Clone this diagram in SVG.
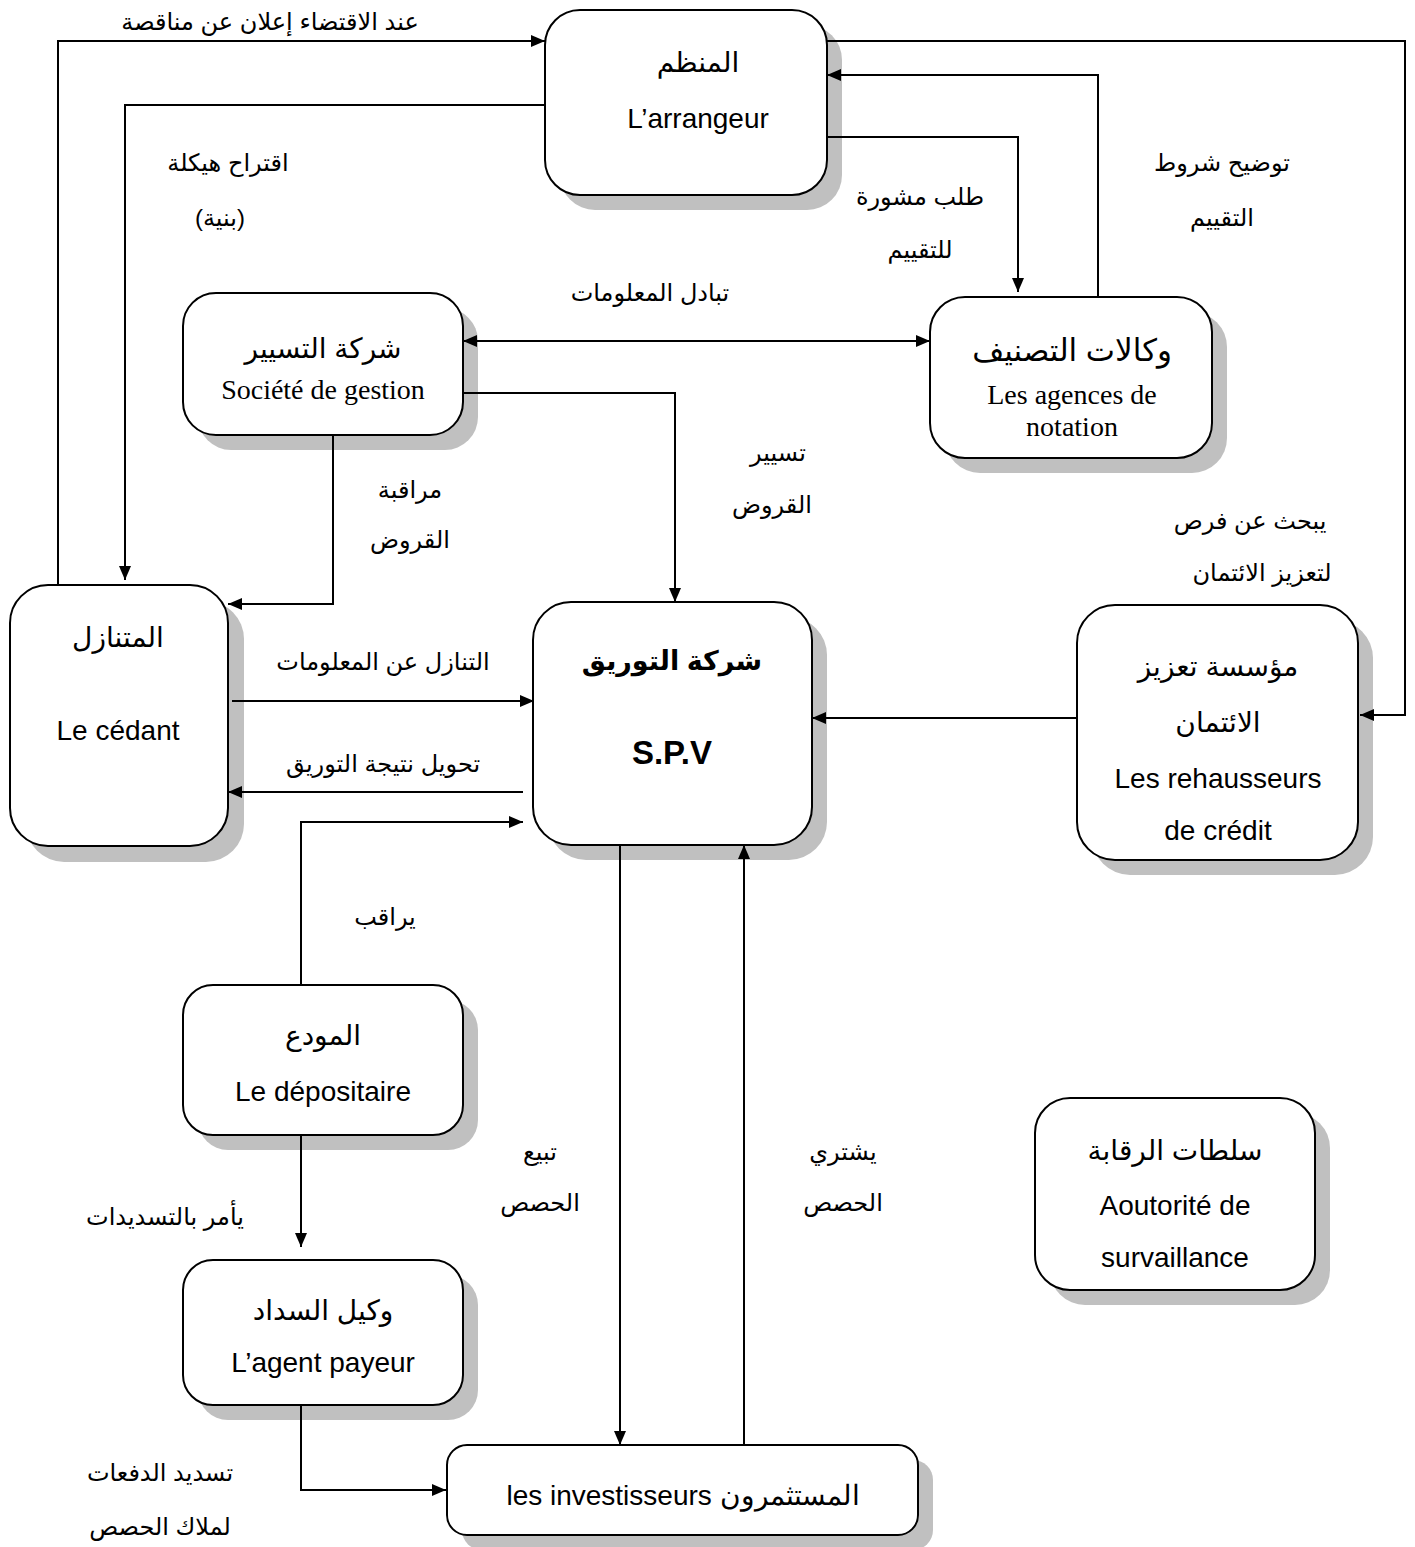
<svg xmlns="http://www.w3.org/2000/svg" width="1415" height="1547" viewBox="0 0 1415 1547">
<style>
.box{fill:#fff;stroke:#000;stroke-width:2}
.sh{fill:#c0c0c0}
.ln{fill:none;stroke:#000;stroke-width:2}
.ar{font-family:"Liberation Sans","DejaVu Sans",sans-serif;font-size:24px;fill:#000;text-anchor:middle}
.t{font-family:"Liberation Sans","DejaVu Sans",sans-serif;font-size:28px;fill:#000;text-anchor:middle}
.lat{font-family:"Liberation Sans",Arial,sans-serif;font-size:28px;fill:#000;text-anchor:middle}
.ser{font-family:"Liberation Serif","Times New Roman",serif;font-size:28px;fill:#000;text-anchor:middle}
.b{font-weight:bold}
</style>
<defs>
<marker id="ah" markerUnits="userSpaceOnUse" viewBox="0 0 14 12" markerWidth="14" markerHeight="12" refX="14" refY="6" orient="auto-start-reverse">
<path d="M0,0 L14,6 L0,12 z" fill="#000"/>
</marker>
</defs>
<rect width="1415" height="1547" fill="#fff"/>

<g id="arrangeur">
<rect class="sh" x="560" y="25" width="282" height="185" rx="35"/>
<rect class="box" x="545" y="10" width="282" height="185" rx="35"/>
<text class="t" x="698" y="72">المنظم</text>
<text class="lat" x="698" y="128">L’arrangeur</text>
</g>

<g id="agences">
<rect class="sh" x="945" y="312" width="282" height="161" rx="35"/>
<rect class="box" x="930" y="297" width="282" height="161" rx="35"/>
<text class="t" x="1072" y="361" style="font-size:31px">وكالات التصنيف</text>
<text class="ser" x="1072" y="404">Les agences de</text>
<text class="ser" x="1072" y="436">notation</text>
</g>

<g id="gestion">
<rect class="sh" x="198" y="308" width="280" height="142" rx="33"/>
<rect class="box" x="183" y="293" width="280" height="142" rx="33"/>
<text class="t" x="323" y="358">شركة التسيير</text>
<text class="ser" x="323" y="399">Société de gestion</text>
</g>

<g id="cedant">
<rect class="sh" x="26" y="601" width="218" height="261" rx="38"/>
<rect class="box" x="10" y="585" width="218" height="261" rx="38"/>
<text class="t" x="118" y="647">المتنازل</text>
<text class="lat" x="118" y="740">Le cédant</text>
</g>

<g id="spv">
<rect class="sh" x="548" y="617" width="279" height="243" rx="38"/>
<rect class="box" x="533" y="602" width="279" height="243" rx="38"/>
<text class="t b" x="672" y="670" style="font-size:27px">شركة التوريق</text>
<text class="lat b" x="672" y="764" style="font-size:33px">S.P.V</text>
</g>

<g id="rehausseurs">
<rect class="sh" x="1092" y="620" width="281" height="255" rx="38"/>
<rect class="box" x="1077" y="605" width="281" height="255" rx="38"/>
<text class="t" x="1218" y="676">مؤسسة تعزيز</text>
<text class="t" x="1218" y="732">الائتمان</text>
<text class="lat" x="1218" y="788">Les rehausseurs</text>
<text class="lat" x="1218" y="840">de crédit</text>
</g>

<g id="depositaire">
<rect class="sh" x="198" y="1000" width="280" height="150" rx="30"/>
<rect class="box" x="183" y="985" width="280" height="150" rx="30"/>
<text class="t" x="323" y="1045">المودع</text>
<text class="lat" x="323" y="1101">Le dépositaire</text>
</g>

<g id="agent">
<rect class="sh" x="198" y="1275" width="280" height="145" rx="30"/>
<rect class="box" x="183" y="1260" width="280" height="145" rx="30"/>
<text class="t" x="323" y="1320">وكيل السداد</text>
<text class="lat" x="323" y="1372">L’agent payeur</text>
</g>

<g id="investisseurs">
<rect class="sh" x="462" y="1460" width="471" height="90" rx="20"/>
<rect class="box" x="447" y="1445" width="471" height="90" rx="20"/>
<text class="lat" x="683" y="1505">les investisseurs المستثمرون</text>
</g>

<g id="autorite">
<rect class="sh" x="1050" y="1113" width="280" height="192" rx="35"/>
<rect class="box" x="1035" y="1098" width="280" height="192" rx="35"/>
<text class="t" x="1175" y="1160">سلطات الرقابة</text>
<text class="lat" x="1175" y="1215">Aoutorité de</text>
<text class="lat" x="1175" y="1267">survaillance</text>
</g>

<g id="connectors">
<path class="ln" d="M58,585 V41 H545" marker-end="url(#ah)"/>
<path class="ln" d="M545,105 H125 V580" marker-end="url(#ah)"/>
<path class="ln" d="M827,41 H1405 V715 H1360" marker-end="url(#ah)"/>
<path class="ln" d="M1098,298 V75 H827" marker-end="url(#ah)"/>
<path class="ln" d="M827,137 H1018 V292" marker-end="url(#ah)"/>
<path class="ln" d="M463,341 H930" marker-start="url(#ah)" marker-end="url(#ah)"/>
<path class="ln" d="M463,393 H675 V602" marker-end="url(#ah)"/>
<path class="ln" d="M333,435 V604 H228" marker-end="url(#ah)"/>
<path class="ln" d="M232,701 H534" marker-end="url(#ah)"/>
<path class="ln" d="M523,792 H228" marker-end="url(#ah)"/>
<path class="ln" d="M301,985 V822 H523" marker-end="url(#ah)"/>
<path class="ln" d="M1077,718 H812" marker-end="url(#ah)"/>
<path class="ln" d="M301,1135 V1247" marker-end="url(#ah)"/>
<path class="ln" d="M301,1405 V1490 H446" marker-end="url(#ah)"/>
<path class="ln" d="M620,845 V1445" marker-end="url(#ah)"/>
<path class="ln" d="M744,1445 V845" marker-end="url(#ah)"/>
<text class="ar" x="270" y="30">عند الاقتضاء إعلان عن مناقصة</text>
<text class="ar" x="228" y="171">اقتراح هيكلة</text>
<text class="ar" x="220" y="226">(بنية)</text>
<text class="ar" x="920" y="205">طلب مشورة</text>
<text class="ar" x="920" y="258">للتقييم</text>
<text class="ar" x="1222" y="171">توضيح شروط</text>
<text class="ar" x="1222" y="226">التقييم</text>
<text class="ar" x="650" y="301">تبادل المعلومات</text>
<text class="ar" x="778" y="461">تسيير</text>
<text class="ar" x="772" y="513">القروض</text>
<text class="ar" x="410" y="498">مراقبة</text>
<text class="ar" x="410" y="548">القروض</text>
<text class="ar" x="1250" y="529">يبحث عن فرص</text>
<text class="ar" x="1262" y="581">لتعزيز الائتمان</text>
<text class="ar" x="383" y="670">التنازل عن المعلومات</text>
<text class="ar" x="383" y="772">تحويل نتيجة التوريق</text>
<text class="ar" x="385" y="925">يراقب</text>
<text class="ar" x="165" y="1225">يأمر بالتسديدات</text>
<text class="ar" x="540" y="1160">تبيع</text>
<text class="ar" x="540" y="1211">الحصص</text>
<text class="ar" x="843" y="1160">يشتري</text>
<text class="ar" x="843" y="1211">الحصص</text>
<text class="ar" x="160" y="1481">تسديد الدفعات</text>
<text class="ar" x="160" y="1535">لملاك الحصص</text>
</g>
</svg>
